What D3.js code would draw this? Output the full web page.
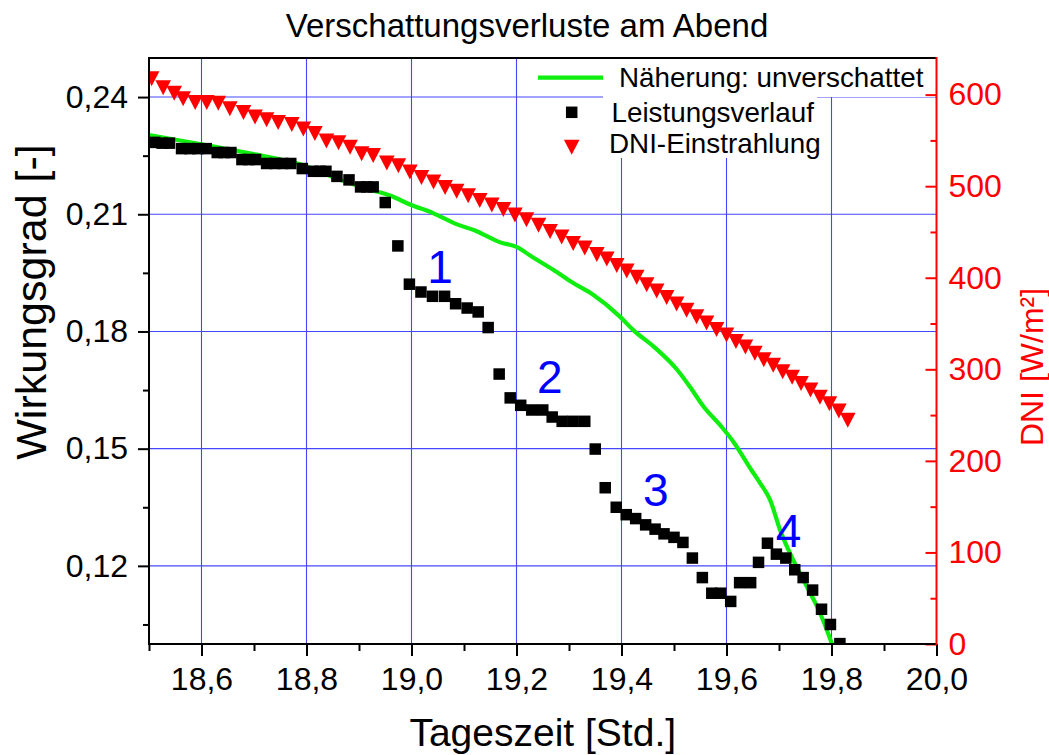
<!DOCTYPE html>
<html><head><meta charset="utf-8">
<script src="https://cdn.jsdelivr.net/npm/d3@7"></script>
<style>
body{margin:0;background:#fff;}
text{font-family:"Liberation Sans",Arial,sans-serif;}
</style>
</head><body>
<script>
// ---------- data ----------
const timeLeistung = [18.511,18.525,18.539,18.562,18.578,18.593,18.609,18.630,18.643,18.656,18.677,18.690,18.703,18.724,18.740,18.755,18.770,18.792,18.813,18.826,18.837,18.858,18.881,18.903,18.915,18.927,18.950,18.974,18.996,19.018,19.040,19.063,19.084,19.106,19.127,19.146,19.167,19.188,19.208,19.229,19.250,19.268,19.287,19.308,19.330,19.350,19.369,19.390,19.409,19.427,19.446,19.464,19.481,19.500,19.517,19.535,19.554,19.572,19.589,19.608,19.625,19.646,19.661,19.678,19.695,19.713,19.730,19.746,19.764,19.781,19.798,19.816];
const leistung = [0.2284,0.2282,0.2282,0.2268,0.2268,0.2268,0.2268,0.2258,0.2258,0.2258,0.2240,0.2240,0.2240,0.2230,0.2230,0.2230,0.2230,0.2217,0.2210,0.2210,0.2210,0.2197,0.2188,0.2170,0.2170,0.2170,0.2130,0.2019,0.1921,0.1901,0.1890,0.1890,0.1871,0.1860,0.1850,0.1810,0.1691,0.1630,0.1611,0.1599,0.1599,0.1581,0.1570,0.1570,0.1570,0.1499,0.1400,0.1350,0.1331,0.1321,0.1305,0.1294,0.1282,0.1273,0.1260,0.1220,0.1170,0.1130,0.1130,0.1109,0.1157,0.1157,0.1209,0.1258,0.1230,0.1220,0.1190,0.1170,0.1138,0.1089,0.1050,0.1001];

const timeDNI = [18.505,18.527,18.548,18.565,18.588,18.610,18.632,18.654,18.680,18.702,18.724,18.746,18.772,18.794,18.816,18.838,18.861,18.883,18.905,18.927,18.953,18.975,18.997,19.019,19.042,19.064,19.086,19.108,19.130,19.153,19.175,19.197,19.219,19.242,19.264,19.286,19.308,19.330,19.353,19.372,19.391,19.410,19.429,19.448,19.467,19.486,19.505,19.524,19.543,19.562,19.581,19.600,19.618,19.636,19.654,19.671,19.689,19.707,19.725,19.742,19.760,19.778,19.796,19.814,19.831];
const dni = [618,608,602,596,592,592,591,585,581,576,573,570,568,563,558,550,548,543,536,534,526,523,516,510,505,499,495,490,485,480,475,469,464,458,451,445,438,433,426,421,414,408,401,393,386,379,372,365,358,351,344,338,331,325,318,311,305,298,292,285,278,270,263,255,245];

const timeFit = [18.500,18.597,18.692,18.788,18.864,18.921,18.959,18.997,19.041,19.083,19.125,19.169,19.199,19.231,19.270,19.308,19.346,19.397,19.422,19.464,19.506,19.530,19.555,19.590,19.615,19.647,19.664,19.683,19.702,19.727,19.753,19.778,19.801];
const fitValues = [0.2303,0.2280,0.2256,0.2228,0.2188,0.2163,0.2148,0.2125,0.2103,0.2076,0.2056,0.2028,0.2017,0.1990,0.1958,0.1924,0.1894,0.1838,0.1804,0.1758,0.1702,0.1659,0.1610,0.1557,0.1514,0.1446,0.1412,0.1369,0.1292,0.1215,0.1147,0.1080,0.1000];

const xTicks = [18.6,18.8,19.0,19.2,19.4,19.6,19.8,20.0];
const xMinor = [18.5,18.7,18.9,19.1,19.3,19.5,19.7,19.9];
const yLeftTicks = [0.12,0.15,0.18,0.21,0.24];
const yLeftMinor = [0.105,0.135,0.165,0.195,0.225];
const yRightTicks = [0,100,200,300,400,500,600];
const yRightMinor = [50,150,250,350,450,550];

const labelTexts = ["1","2","3","4"];
const labelTime = [19.030,19.239,19.441,19.694];
const labelValue = [0.1923,0.1642,0.1353,0.1249];

const legendNames = ["Näherung: unverschattet","Leistungsverlauf","DNI-Einstrahlung"];

// ---------- layout ----------
const W = 1049, H = 755;
const L = 149, R = 936.5, T = 58, B = 644;
const svg = d3.select("body").append("svg").attr("width", W).attr("height", H);

const x = d3.scaleLinear().domain([18.5, 20.0]).range([L, R]);
const yL = d3.scaleLinear().domain([0.10, 0.25]).range([B, T]);
const yR = d3.scaleLinear().domain([0, 640]).range([B, T]);

const comma = (d, n) => d.toFixed(n).replace(".", ",");

svg.append("defs").append("clipPath").attr("id", "clip")
  .append("rect").attr("x", L).attr("y", T).attr("width", R - L).attr("height", B - T);

// grid
const grid = svg.append("g");
grid.selectAll(".gx").data(xTicks.filter(d => d < 20)).enter().append("line")
  .attr("x1", d => x(d)).attr("x2", d => x(d)).attr("y1", T).attr("y2", B)
  .attr("stroke", "#4646ff").attr("stroke-width", 1.1);
grid.selectAll(".gy").data(yLeftTicks).enter().append("line")
  .attr("x1", L).attr("x2", R).attr("y1", d => yL(d)).attr("y2", d => yL(d))
  .attr("stroke", "#4646ff").attr("stroke-width", 1.1);

// legend background
svg.append("rect").attr("x", 603).attr("y", T + 1).attr("width", R - 603 - 1).attr("height", 38).attr("fill", "#fff");
svg.append("rect").attr("x", 603).attr("y", T + 38).attr("width", 214).attr("height", 62).attr("fill", "#fff");

const plot = svg.append("g").attr("clip-path", "url(#clip)");

// fit line
plot.append("path")
  .datum(timeFit.map((t, i) => [t, fitValues[i]]))
  .attr("fill", "none").attr("stroke", "#10ee10").attr("stroke-width", 4.2)
  .attr("stroke-linejoin", "round")
  .attr("d", d3.line().x(d => x(d[0])).y(d => yL(d[1])).curve(d3.curveMonotoneX));

// squares
const sq = 11.5;
plot.selectAll(".sq").data(timeLeistung.map((t, i) => [t, leistung[i]])).enter().append("rect")
  .attr("x", d => x(d[0]) - sq / 2).attr("y", d => yL(d[1]) - sq / 2)
  .attr("width", sq).attr("height", sq).attr("fill", "#000");

// triangles
const tri = "M-7.8,-7L7.8,-7L0,8Z";
plot.selectAll(".tri").data(timeDNI.map((t, i) => [t, dni[i]])).enter().append("path")
  .attr("d", tri).attr("transform", d => `translate(${x(d[0])},${yR(d[1])})`)
  .attr("fill", "#ff0000");

// axes
const tickFont = "32px";
function styleAxis(g, color) {
  g.selectAll(".domain").remove();
  g.selectAll(".tick line").attr("stroke", color).attr("stroke-width", 2);
  g.selectAll(".tick text").attr("fill", color).style("font-size", tickFont)
    .style("font-family", '"Liberation Sans", Arial, sans-serif');
}
// bottom
const gxMinor = svg.append("g").attr("transform", `translate(0,${B})`)
  .call(d3.axisBottom(x).tickValues(xMinor).tickSize(7).tickFormat(""));
styleAxis(gxMinor, "#000");
const gx = svg.append("g").attr("transform", `translate(0,${B})`)
  .call(d3.axisBottom(x).tickValues(xTicks).tickSize(12).tickPadding(11).tickFormat(d => comma(d, 1)));
styleAxis(gx, "#000");
// left
const gyMinor = svg.append("g").attr("transform", `translate(${L},0)`)
  .call(d3.axisLeft(yL).tickValues(yLeftMinor).tickSize(6).tickFormat(""));
styleAxis(gyMinor, "#000");
const gy = svg.append("g").attr("transform", `translate(${L},0)`)
  .call(d3.axisLeft(yL).tickValues(yLeftTicks).tickSize(11).tickPadding(10).tickFormat(d => comma(d, 2)));
styleAxis(gy, "#000");
// right
const grMinor = svg.append("g").attr("transform", `translate(${R},0)`)
  .call(d3.axisRight(yR).tickValues(yRightMinor).tickSize(-6).tickFormat(""));
styleAxis(grMinor, "#ff0000");
const gr = svg.append("g").attr("transform", `translate(${R},0)`)
  .call(d3.axisRight(yR).tickValues(yRightTicks).tickSize(-11).tickPadding(12).tickFormat(d => d));
styleAxis(gr, "#ff0000");

// frame lines
svg.append("line").attr("x1", L).attr("x2", R).attr("y1", T).attr("y2", T).attr("stroke", "#000").attr("stroke-width", 2);
svg.append("line").attr("x1", L - 1).attr("x2", R).attr("y1", B).attr("y2", B).attr("stroke", "#000").attr("stroke-width", 2);
svg.append("line").attr("x1", L).attr("x2", L).attr("y1", T - 1).attr("y2", B + 1).attr("stroke", "#000").attr("stroke-width", 2);
svg.append("line").attr("x1", R).attr("x2", R).attr("y1", T - 1).attr("y2", B + 1).attr("stroke", "#ff0000").attr("stroke-width", 2);

// annotations
svg.selectAll(".ann").data(labelTexts).enter().append("text")
  .attr("x", (d, i) => x(labelTime[i])).attr("y", (d, i) => yL(labelValue[i]))
  .attr("fill", "#0000ff").style("font-size", "46px").text(d => d);

// legend
const lg = svg.append("g");
lg.append("line").attr("x1", 538).attr("x2", 603).attr("y1", 77.7).attr("y2", 77.7)
  .attr("stroke", "#10ee10").attr("stroke-width", 4.2);
lg.append("rect").attr("x", 571.7 - sq / 2).attr("y", 112.3 - sq / 2).attr("width", sq).attr("height", sq).attr("fill", "#000");
lg.append("path").attr("d", tri).attr("transform", "translate(571.7,146.7)").attr("fill", "#ff0000");
const legX = [619, 611.5, 609];
const legY = [87, 121.7, 153.3];
lg.selectAll(".lt").data(legendNames).enter().append("text")
  .attr("x", (d, i) => legX[i]).attr("y", (d, i) => legY[i])
  .style("font-size", "27.8px").attr("fill", "#000").text(d => d);

// titles
svg.append("text").attr("x", 527).attr("y", 37).attr("text-anchor", "middle")
  .style("font-size", "33px").text("Verschattungsverluste am Abend");
svg.append("text").attr("x", (L + R) / 2).attr("y", 746).attr("text-anchor", "middle")
  .style("font-size", "39px").text("Tageszeit [Std.]");
svg.append("text").attr("transform", `translate(46,302) rotate(-90)`).attr("text-anchor", "middle")
  .style("font-size", "43px").text("Wirkungsgrad [-]");
svg.append("text").attr("transform", `translate(1043,367) rotate(-90)`).attr("text-anchor", "middle")
  .attr("fill", "#ff0000").style("font-size", "32px").text("DNI [W/m²]");
</script>
</body></html>
